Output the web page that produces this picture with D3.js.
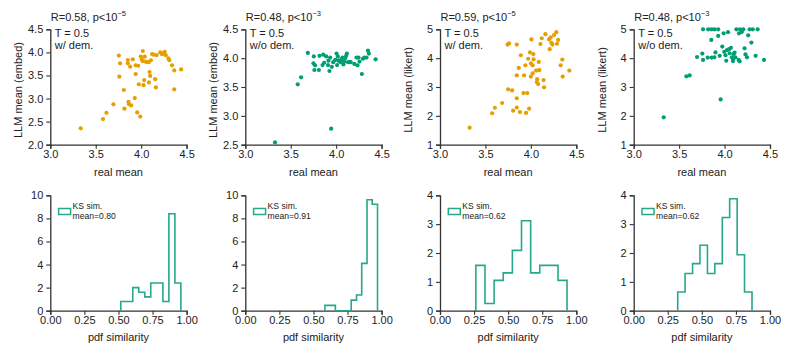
<!DOCTYPE html>
<html><head><meta charset="utf-8">
<script src="https://cdn.jsdelivr.net/npm/d3@7"></script>
<style>
body{margin:0;background:#fff;}
text{font-family:"Liberation Sans",Arial,sans-serif;fill:#222;}
</style></head>
<body><svg id="c" width="793" height="357"></svg>
<script>
// ---- data ----
const embedDem = [[3.335,2.354],[3.58,2.556],[3.618,2.69],[3.695,2.874],[3.754,3.93],[3.768,3.763],[3.76,3.474],[3.809,3.185],[3.816,2.78],[3.853,3.835],[3.853,3.763],[3.86,2.93],[3.864,2.88],[3.879,3.69],[3.89,2.85],[3.908,3.85],[3.93,3.01],[3.94,3.72],[3.94,3.53],[3.956,2.70],[3.967,3.71],[3.974,3.31],[3.99,2.61],[3.996,3.91],[4.007,3.85],[4.018,4.03],[4.018,3.81],[4.026,3.29],[4.033,3.40],[4.04,3.91],[4.048,3.80],[4.06,3.79],[4.085,3.79],[4.085,3.35],[4.092,3.575],[4.099,3.49],[4.107,3.83],[4.12,3.965],[4.136,3.95],[4.154,3.42],[4.162,3.24],[4.169,3.94],[4.21,4.0],[4.228,3.96],[4.235,3.98],[4.26,4.01],[4.27,3.94],[4.30,3.87],[4.31,3.83],[4.34,3.72],[4.364,3.61],[4.364,3.2],[4.44,3.63]];
const embedNoDem = [[3.327,2.54],[3.577,3.546],[3.614,3.668],[3.688,4.09],[3.75,3.91],[3.754,4.03],[3.76,3.795],[3.768,3.876],[3.81,3.795],[3.816,4.04],[3.85,3.88],[3.857,4.06],[3.868,3.92],[3.89,4.03],[3.91,3.88],[3.915,3.957],[3.926,3.777],[3.934,4.01],[3.945,2.777],[3.952,3.85],[3.967,3.93],[3.99,3.97],[4.004,4.08],[4.01,3.88],[4.018,4.03],[4.026,3.96],[4.033,3.95],[4.048,3.93],[4.06,3.98],[4.07,4.01],[4.08,3.89],[4.088,3.94],[4.099,4.0],[4.11,4.04],[4.118,4.08],[4.13,3.93],[4.147,3.93],[4.16,3.93],[4.20,3.90],[4.224,4.01],[4.235,3.876],[4.246,4.01],[4.257,3.94],[4.283,3.725],[4.294,3.99],[4.31,4.01],[4.334,4.01],[4.35,4.13],[4.36,4.08],[4.434,3.98]];
const likertDem = [[3.326,1.59],[3.574,2.09],[3.604,2.28],[3.684,2.445],[3.75,2.92],[3.743,4.47],[3.76,4.51],[3.794,2.88],[3.805,2.18],[3.845,4.47],[3.845,3.40],[3.845,2.61],[3.845,2.29],[3.867,3.66],[3.88,2.13],[3.89,4.10],[3.918,2.79],[3.925,3.40],[3.94,3.75],[3.947,2.10],[3.96,2.79],[3.97,3.98],[3.98,2.25],[3.99,4.20],[4.0,3.82],[4.0,3.36],[4.006,4.65],[4.02,3.75],[4.02,3.47],[4.028,4.14],[4.03,3.96],[4.057,3.57],[4.065,3.17],[4.07,3.27],[4.08,3.10],[4.087,3.58],[4.087,3.87],[4.094,3.59],[4.105,4.49],[4.12,4.69],[4.14,3.24],[4.145,2.99],[4.16,4.83],[4.20,4.65],[4.207,4.31],[4.218,4.72],[4.226,4.53],[4.237,4.47],[4.255,4.80],[4.28,4.90],[4.288,4.50],[4.30,4.63],[4.328,3.75],[4.346,3.95],[4.35,3.36],[4.423,3.57]];
const likertNoDem = [[3.33,1.95],[3.58,3.37],[3.616,3.40],[3.697,4.04],[3.755,4.16],[3.763,3.94],[3.763,5.0],[3.814,4.02],[3.82,5.0],[3.854,4.63],[3.858,5.0],[3.858,4.02],[3.887,4.03],[3.89,5.0],[3.90,4.20],[3.93,4.77],[3.93,5.0],[3.946,4.08],[3.957,2.57],[3.975,4.40],[3.99,4.86],[3.997,4.22],[4.01,4.10],[4.019,3.91],[4.027,4.28],[4.038,4.90],[4.05,4.31],[4.056,4.17],[4.07,4.36],[4.08,4.03],[4.093,3.97],[4.093,3.90],[4.10,4.14],[4.11,4.19],[4.118,4.03],[4.13,5.0],[4.155,3.94],[4.159,4.86],[4.166,3.89],[4.17,5.0],[4.19,4.91],[4.206,5.0],[4.22,4.34],[4.23,4.13],[4.247,4.03],[4.26,4.79],[4.276,5.0],[4.295,4.54],[4.31,5.0],[4.342,4.08],[4.364,5.0],[4.434,3.94]];

const hist1Edges = [0.517,0.561,0.605,0.649,0.693,0.737,0.781,0.826,0.870,0.914,0.958];
const hist1Dens  = [0.8,0.8,2.0,1.6,1.2,2.4,2.4,0.8,8.4,2.4];
const hist2Edges = [0.584,0.623,0.661,0.700,0.738,0.777,0.816,0.854,0.893,0.931,0.970];
const hist2Dens  = [0.46,0.46,0,0,0,0.92,1.36,4.1,9.62,9.22];
const hist3Edges = [0.263,0.330,0.397,0.464,0.531,0.598,0.665,0.732,0.799,0.866,0.932];
const hist3Dens  = [1.57,0.25,1.05,1.31,2.09,3.12,1.31,1.57,1.57,1.05];
const hist4Edges = [0.323,0.377,0.432,0.486,0.541,0.595,0.650,0.704,0.759,0.813,0.868];
const hist4Dens  = [0.65,1.29,1.63,2.27,1.29,1.63,3.23,3.88,1.94,0.65];

const scatterYDomains = [[2.0,4.5],[2.5,4.5],[1,5],[1,5]];
const scatterYTicks = [[2.0,2.5,3.0,3.5,4.0,4.5],[2.5,3.0,3.5,4.0,4.5],[1,2,3,4,5],[1,2,3,4,5]];
const scatterXTicks = [3.0,3.5,4.0,4.5];
const scatterYLabels = ["LLM mean (embed)","LLM mean (embed)","LLM mean (likert)","LLM mean (likert)"];
const rValues = ["R=0.58, p<10","R=0.48, p<10","R=0.59, p<10","R=0.48, p<10"];
const pExps = ["\u22125","\u22123","\u22125","\u22123"];
const demLabels = ["w/ dem.","w/o dem.","w/ dem.","w/o dem."];
const tempLabel = "T = 0.5";
const histYDomains = [[0,10],[0,10],[0,4],[0,4]];
const histYTicks = [[0,2,4,6,8,10],[0,2,4,6,8,10],[0,1,2,3,4],[0,1,2,3,4]];
const histXTicks = [0,0.25,0.5,0.75,1.0];
const ksMeans = ["mean=0.80","mean=0.91","mean=0.62","mean=0.62"];

// ---- layout ----
const svg = d3.select("#c");
const lefts = [50.3,245.3,440,633.7];
const pw = 136.3;
const topY = [29.3,144.7], botY = [195.3,310.7];
const colors = ["#E69F00","#009E73","#E69F00","#009E73"];
const histColor = "#27a88a";
const axisColor = "#333";
const scatterData = [embedDem, embedNoDem, likertDem, likertNoDem];
const histE = [hist1Edges,hist2Edges,hist3Edges,hist4Edges];
const histD = [hist1Dens,hist2Dens,hist3Dens,hist4Dens];

function styleAxis(g){
  g.select(".domain").attr("stroke",axisColor).attr("stroke-width",1.3);
  g.selectAll(".tick line").attr("stroke",axisColor).attr("stroke-width",1.1);
  g.selectAll(".tick text").attr("font-size","11px").attr("fill","#222")
    .attr("font-family","Liberation Sans, Arial, sans-serif");
}

for(let i=0;i<4;i++){
  const L = lefts[i];
  // scatter
  const x = d3.scaleLinear().domain([3.0,4.5]).range([L, L+pw]);
  const y = d3.scaleLinear().domain(scatterYDomains[i]).range([topY[1], topY[0]]);
  const fmtY = (i<2) ? d3.format(".1f") : d3.format("d");
  const gx = svg.append("g").attr("transform",`translate(0,${topY[1]})`)
    .call(d3.axisBottom(x).tickValues(scatterXTicks).tickFormat(d3.format(".1f")).tickSizeOuter(0).tickSize(4).tickPadding(2));
  styleAxis(gx);
  const gy = svg.append("g").attr("transform",`translate(${L},0)`)
    .call(d3.axisLeft(y).tickValues(scatterYTicks[i]).tickFormat(fmtY).tickSizeOuter(0).tickSize(4).tickPadding(3));
  styleAxis(gy);
  svg.append("g").selectAll("circle").data(scatterData[i]).enter().append("circle")
    .attr("cx",d=>x(d[0])).attr("cy",d=>y(d[1])).attr("r",2.1).attr("fill",colors[i]);
  svg.append("text").attr("x",L+pw/2).attr("y",176).attr("text-anchor","middle").attr("font-size","11px").text("real mean");
  svg.append("text").attr("transform",`translate(${L-28},${(topY[0]+topY[1])/2+3}) rotate(-90)`)
    .attr("text-anchor","middle").attr("font-size","11px").text(scatterYLabels[i]);
  const t = svg.append("text").attr("x",L+0.5).attr("y",20.5).attr("font-size","11px");
  t.append("tspan").text(rValues[i]);
  t.append("tspan").attr("font-size","7.5px").attr("dy",-4.5).text(pExps[i]);
  svg.append("text").attr("x",L+4.5).attr("y",37.3).attr("font-size","11px").text(tempLabel);
  svg.append("text").attr("x",L+4.5).attr("y",48.6).attr("font-size","11px").text(demLabels[i]);

  // histogram
  const hx = d3.scaleLinear().domain([0,1]).range([L, L+pw]);
  const hy = d3.scaleLinear().domain(histYDomains[i]).range([botY[1], botY[0]]);
  const hgx = svg.append("g").attr("transform",`translate(0,${botY[1]})`)
    .call(d3.axisBottom(hx).tickValues(histXTicks).tickFormat(d3.format(".2f")).tickSizeOuter(0).tickSize(4).tickPadding(2));
  styleAxis(hgx);
  const hgy = svg.append("g").attr("transform",`translate(${L},0)`)
    .call(d3.axisLeft(hy).tickValues(histYTicks[i]).tickFormat(d3.format("d")).tickSizeOuter(0).tickSize(4).tickPadding(3));
  styleAxis(hgy);
  const E = histE[i], D = histD[i];
  const p = d3.path();
  p.moveTo(hx(E[0]), hy(0));
  for(let k=0;k<D.length;k++){
    p.lineTo(hx(E[k]), hy(D[k]));
    p.lineTo(hx(E[k+1]), hy(D[k]));
  }
  p.lineTo(hx(E[E.length-1]), hy(0));
  svg.append("path").attr("d",p.toString()).attr("fill","none").attr("stroke",histColor).attr("stroke-width",1.6);
  svg.append("text").attr("x",L+pw/2).attr("y",340.5).attr("text-anchor","middle").attr("font-size","11px").text("pdf similarity");
  // legend
  svg.append("rect").attr("x",L+8.3).attr("y",208.5).attr("width",12).attr("height",6).attr("fill","none")
    .attr("stroke",histColor).attr("stroke-width",1.5);
  svg.append("text").attr("x",L+22.3).attr("y",209.2).attr("font-size","8.6px").text("KS sim.");
  svg.append("text").attr("x",L+22.3).attr("y",219.3).attr("font-size","8.6px").text(ksMeans[i]);
}
</script></body></html>
